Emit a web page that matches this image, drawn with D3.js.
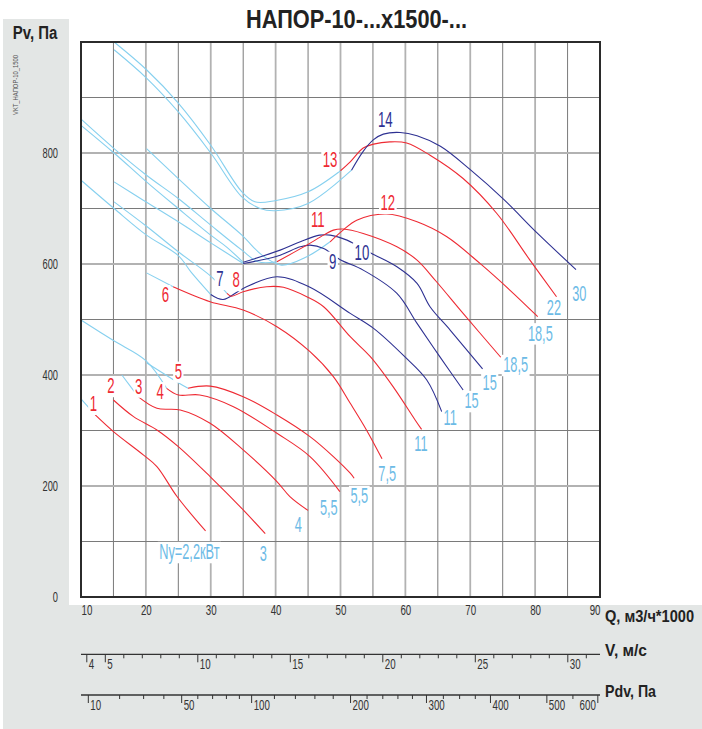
<!DOCTYPE html>
<html><head><meta charset="utf-8">
<script src="https://cdn.jsdelivr.net/npm/d3@7"></script>
<style>body{margin:0;background:#fff}svg{display:block}</style>
</head><body><svg id="c" width="702" height="729"></svg>
<script>
// ---------- DATA ----------
const titleText = "НАПОР-10-...х1500-...";
const qTicks = [10,20,30,40,50,60,70,80,90];
const pTicks = [0,200,400,600,800];
const vMajor = [4,5,10,15,20,25,30];
const vMinor = [6,7,8,9,11,12,13,14,16,17,18,19,21,22,23,24,26,27,28,29,31];
const pdvMajor = [10,50,100,200,300,400,500,600];
const pdvMinor = [20,30,40,60,70,80,90,120,140,160,180,220,240,260,280,325,350,375,450,550];

// fan curves: [Q (thousand m3/h), Pv (Pa)]
const fan1Light = [[10,357],[12.2,328]];
const fan1Main  = [[12.2,328],[15,298],[19.6,256],[21.7,235],[24.8,181],[29.2,119]];
const fan2Light = [];
const fan2Main  = [[15,355],[18.1,325],[21.7,301],[25,271],[29.9,217],[35,157],[38.4,114]];
const fan3Light = [[16.3,400],[18.8,361]];
const fan3Main  = [[18.8,361],[21.7,340],[25.3,337],[29.9,313],[35,265],[40.2,208],[42.2,181],[45,156]];
const fan4Light = [[10,499],[15,462],[20,426],[23.2,376]];
const fan4Main  = [[23.2,376],[25,364],[28.3,364],[33.5,343],[40.2,295],[45.3,253],[49.9,190]];
const fan5Light = [[20.1,422],[25,386],[26.5,376]];
const fan5Main  = [[26.5,376],[29.9,380],[35,361],[40.2,328],[45.3,289],[48.9,253],[51.5,223],[52.1,214]];
const fan6Light = [[20.1,584],[24.2,559]];
const fan6Main  = [[24.2,559],[29.9,532],[35,517],[40.2,487],[45.3,442],[48.9,397],[51.5,349],[54,301],[56.4,249]];
const fan7Light = [[10.1,750],[15.1,700],[20.1,652],[25,615],[27,585],[30,545]];
const fan7Main  = [[30,545],[31.9,536],[35,556],[40.2,577],[45.3,558],[51.5,511],[55.1,484],[59.9,433],[63.3,391],[65.6,334]];
const fan8Light = [[15.1,712],[20.1,668],[25,622],[30,578],[32.5,547]];
const fan8Main  = [[32.5,547],[33.2,542],[35,550],[38.6,559],[41.2,558],[44.8,541],[47.4,523],[51.5,469],[54.6,433],[58.1,379],[61.5,319],[62.5,302]];
const fan9Light = [[15.1,748],[19.6,715],[25,676],[30,638],[35,601]];
const fan9Main  = [[35,601],[40.2,614],[43.8,631],[45.3,634],[47.4,628],[49.9,608],[53.5,589],[58.7,547],[61.8,493],[65.3,433],[68.9,373]];
const fan10Light = [[10.1,849],[15.1,800],[20.1,748],[25,700],[30,652],[32.5,630],[35,603]];
const fan10Main  = [[35,603],[40.7,625],[43.8,640],[46.8,652],[48.4,652],[51,643],[52.5,634],[54.8,619],[58.7,595],[61.8,565],[63.8,523],[66.9,481],[71.9,411]];
const fan11Light = [[10.1,860],[15.1,808],[20.1,760],[25,718],[30,670],[34.8,625],[37.3,604],[40.2,604]];
const fan11Main  = [[40.2,604],[44.8,634],[47.4,652],[48.9,661],[50.4,663],[53.5,655],[58.7,631],[61.8,607],[64.8,568],[68.9,511],[74.7,432]];
const fan12Light = [[20.1,808],[25,754],[30,700],[34.8,652],[37.9,616],[40.9,598],[44.8,613],[48.4,640]];
const fan12Main  = [[48.4,640],[50.4,661],[52.5,679],[57.1,690],[61.8,676],[66.4,649],[71.5,601],[76.1,553],[80.4,505]];
const fan13Light = [[15.1,1000],[20.1,950],[25,890],[30,814],[34.8,730],[36.8,712],[39.9,714],[45,730],[50,768]];
const fan13Main  = [[50,768],[51.5,784],[53.5,809],[55.1,816],[57.6,820],[60.2,818],[63.8,796],[68.9,754],[74.1,691],[79.2,607],[83.3,541]];
const fan14Light = [[15.1,986],[20.1,935],[25,874],[30,800],[34.8,721],[37.6,700],[39.9,696],[45,709],[51.7,769]];
const fan14Main  = [[51.7,769],[53.5,803],[55.1,824],[56.6,834],[59.2,837],[61.8,831],[65.4,812],[70,770],[75.2,716],[80.3,656],[86.3,590]];

const fanIds    = ["1","2","3","4","5","6","7","8","9","10","11","12","13","14"];
const fanColors = ["r","r","r","r","r","r","b","r","b","b","r","r","r","b"];
const fanPower  = ["Ny=2,2кВт","3","4","5,5","5,5","7,5","11","11","15","15","18,5","18,5","22","30"];
// annotation anchors in data coordinates [Q, Pv]
const idLabelAt = [[11.9,348],[14.6,380],[18.9,379],[22.2,369],[25,406],[23,544],[31.4,573],[33.9,571],[48.8,604],[53.3,621],[46.5,679],[57.3,710],[48.4,787],[56.9,860]];
const powerLabelAt = [[26.7,81],[38.1,78],[43.5,130],[48.2,161],[52.9,182],[57.2,222],[66.9,323],[62.4,276],[70.2,353],[73,387],[77,418],[80.8,475],[82.9,522],[86.8,546]];

const lightSets = [fan1Light,fan2Light,fan3Light,fan4Light,fan5Light,fan6Light,fan7Light,fan8Light,fan9Light,fan10Light,fan11Light,fan12Light,fan13Light,fan14Light];
const mainSets  = [fan1Main,fan2Main,fan3Main,fan4Main,fan5Main,fan6Main,fan7Main,fan8Main,fan9Main,fan10Main,fan11Main,fan12Main,fan13Main,fan14Main];

// ---------- STYLE ----------
const RED = "#ee2a33", BLUE = "#2e3192", LIGHT = "#86d0ef", LABEL_LIGHT = "#6dbbe6";
const GRAY_BG = "#e3e6e5";
const NARROW = "'Liberation Sans', Arial, sans-serif";

const svg = d3.select("#c");
const x = d3.scaleLinear().domain([10,90]).range([81,600]);
const y = d3.scaleLinear().domain([0,1000]).range([597,42]);
const v = d3.scaleLinear().domain([4,30]).range([86.3,567.3]);
const pdv = d3.scaleSqrt().domain([10,600]).range([v(Math.sqrt(10/0.6)), v(Math.sqrt(600/0.6))]);

// backgrounds
svg.append("rect").attr("x",3).attr("y",19).attr("width",699).attr("height",710).attr("fill",GRAY_BG);
svg.append("rect").attr("x",69).attr("y",0).attr("width",633).attr("height",605).attr("fill","#fff");
svg.append("rect").attr("x",0).attr("y",0).attr("width",702).attr("height",19).attr("fill","#fff");

// grid
const g = svg.append("g");
d3.range(15,90,5).forEach(q=>{
  const dark = q%10===5;
  g.append("line").attr("x1",x(q)).attr("x2",x(q)).attr("y1",y(1000)).attr("y2",y(0))
   .attr("stroke",dark?"#7a7a7a":"#b2b2b2").attr("stroke-width",dark?1:1.8);
});
d3.range(100,1000,100).forEach(p=>{
  const dark = p%200===100;
  g.append("line").attr("x1",x(10)).attr("x2",x(90)).attr("y1",y(p)).attr("y2",y(p))
   .attr("stroke",dark?"#7a7a7a":"#b2b2b2").attr("stroke-width",dark?1:1.8);
});

// curves
const line = d3.line().x(d=>x(d[0])).y(d=>y(d[1])).curve(d3.curveCatmullRom.alpha(0.5));
const curves = svg.append("g").attr("fill","none").attr("stroke-width",1.1);
lightSets.forEach(s=>{ if(s.length) curves.append("path").attr("d",line(s)).attr("stroke",LIGHT); });
mainSets.forEach((s,i)=>{ curves.append("path").attr("d",line(s)).attr("stroke",fanColors[i]==="r"?RED:BLUE); });

// border
svg.append("rect").attr("x",x(10)).attr("y",y(1000)).attr("width",x(90)-x(10)).attr("height",y(0)-y(1000))
  .attr("fill","none").attr("stroke","#2b2b2b").attr("stroke-width",2);

// narrow text helper
function ntext(parent, tx, ty, str, size, sx, anchor, fill, weight, box){
  const gg = parent.append("g").attr("transform",`translate(${tx},${ty}) scale(${sx},1)`);
  const t = gg.append("text").attr("x",0).attr("y",0).attr("text-anchor",anchor||"middle")
    .attr("dominant-baseline","central")
    .attr("font-family",NARROW).attr("font-size",size).attr("fill",fill).attr("font-weight",weight||"normal").text(str);
  if(box){
    const b = t.node().getBBox();
    gg.insert("rect","text").attr("x",b.x-1.5/sx).attr("y",b.y+2).attr("width",b.width+3/sx).attr("height",b.height-3).attr("fill","#fff");
  }
  return gg;
}

// labels
const labels = svg.append("g");
idLabelAt.forEach((p,i)=>{
  ntext(labels, x(p[0]), y(p[1]), fanIds[i], 22, 0.6, "middle", fanColors[i]==="r"?RED:BLUE, "normal", true);
});
powerLabelAt.forEach((p,i)=>{
  ntext(labels, x(p[0]), y(p[1]), fanPower[i], 22, 0.58, "middle", LABEL_LIGHT, "normal", true);
});

// y axis
const yAxis = svg.append("g").attr("transform",`translate(${x(10)},0)`)
  .call(d3.axisLeft(y).tickValues(pTicks).tickSize(0).tickPadding(23).tickFormat(d3.format("d")));
yAxis.select(".domain").remove();
yAxis.selectAll(".tick text").attr("font-family",NARROW).attr("font-size",15).attr("fill","#333")
  .attr("text-anchor","end").attr("transform","scale(0.62,1)").attr("x",-23/0.62);

// q axis labels
const qAxis = svg.append("g").attr("transform",`translate(0,${y(0)})`)
  .call(d3.axisBottom(x).tickValues(qTicks).tickSize(0).tickPadding(7).tickFormat(d3.format("d")));
qAxis.select(".domain").remove();
qAxis.selectAll(".tick text").attr("font-family",NARROW).attr("font-size",15).attr("fill","#333")
  .attr("text-anchor",d=>d===10?"start":(d===90?"end":"middle"))
  .attr("transform","scale(0.65,1)").attr("x",0);

// V axis
const vY = 654.3;
svg.append("line").attr("x1",x(10)).attr("x2",x(90)).attr("y1",vY).attr("y2",vY).attr("stroke","#333").attr("stroke-width",1.3);
const vAx = svg.append("g").attr("transform",`translate(0,${vY})`)
  .call(d3.axisBottom(v).tickValues(vMajor).tickSize(8).tickPadding(2).tickFormat(d3.format("d")));
vAx.select(".domain").remove();
vAx.selectAll("line").attr("stroke","#333");
vAx.selectAll(".tick text").attr("font-family",NARROW).attr("font-size",15).attr("fill","#333")
  .attr("text-anchor","start").attr("transform","scale(0.65,1)").attr("x",2/0.65).attr("y",4).attr("dy","0.71em");
const vMin = svg.append("g").attr("transform",`translate(0,${vY})`)
  .call(d3.axisBottom(v).tickValues(vMinor).tickSize(4).tickFormat(""));
vMin.select(".domain").remove(); vMin.selectAll("line").attr("stroke","#333");

// Pdv axis
const pY = 695;
svg.append("line").attr("x1",x(10)).attr("x2",x(90)).attr("y1",pY).attr("y2",pY).attr("stroke","#333").attr("stroke-width",1.3);
const pAx = svg.append("g").attr("transform",`translate(0,${pY})`)
  .call(d3.axisBottom(pdv).tickValues(pdvMajor).tickSize(8).tickFormat(d3.format("d")));
pAx.select(".domain").remove();
pAx.selectAll("line").attr("stroke","#333");
pAx.selectAll(".tick text").attr("font-family",NARROW).attr("font-size",15).attr("fill","#333")
  .attr("text-anchor",d=>d===600?"end":"start").attr("transform","scale(0.65,1)")
  .attr("x",d=>d===600?-2/0.65:2/0.65).attr("y",4).attr("dy","0.71em");
const pMin = svg.append("g").attr("transform",`translate(0,${pY})`)
  .call(d3.axisBottom(pdv).tickValues(pdvMinor).tickSize(4).tickFormat(""));
pMin.select(".domain").remove(); pMin.selectAll("line").attr("stroke","#333");

// titles
function btext(xx, yy, str, size, len, anchor){
  svg.append("text").attr("x",xx).attr("y",yy).attr("font-family","'Liberation Sans', Arial, sans-serif")
    .attr("font-weight","bold").attr("font-size",size).attr("fill","#222").attr("text-anchor",anchor||"start")
    .attr("textLength",len).attr("lengthAdjust","spacingAndGlyphs").text(str);
}
btext(246, 28, titleText, 25, 221);
btext(12.7, 39, "Pv, Па", 18, 44.6);
btext(605, 622, "Q, м3/ч*1000", 16, 89);
btext(605, 655.5, "V, м/с", 17, 42);
btext(605, 697, "Pdv, Па", 17, 51);
svg.append("text").attr("transform","translate(18.3,115) rotate(-90)").attr("font-family",NARROW)
  .attr("font-size",7.5).attr("fill","#555").attr("textLength",60).attr("lengthAdjust","spacingAndGlyphs")
  .text("VKT_НАПОР-10_1500");
</script>
</body></html>
